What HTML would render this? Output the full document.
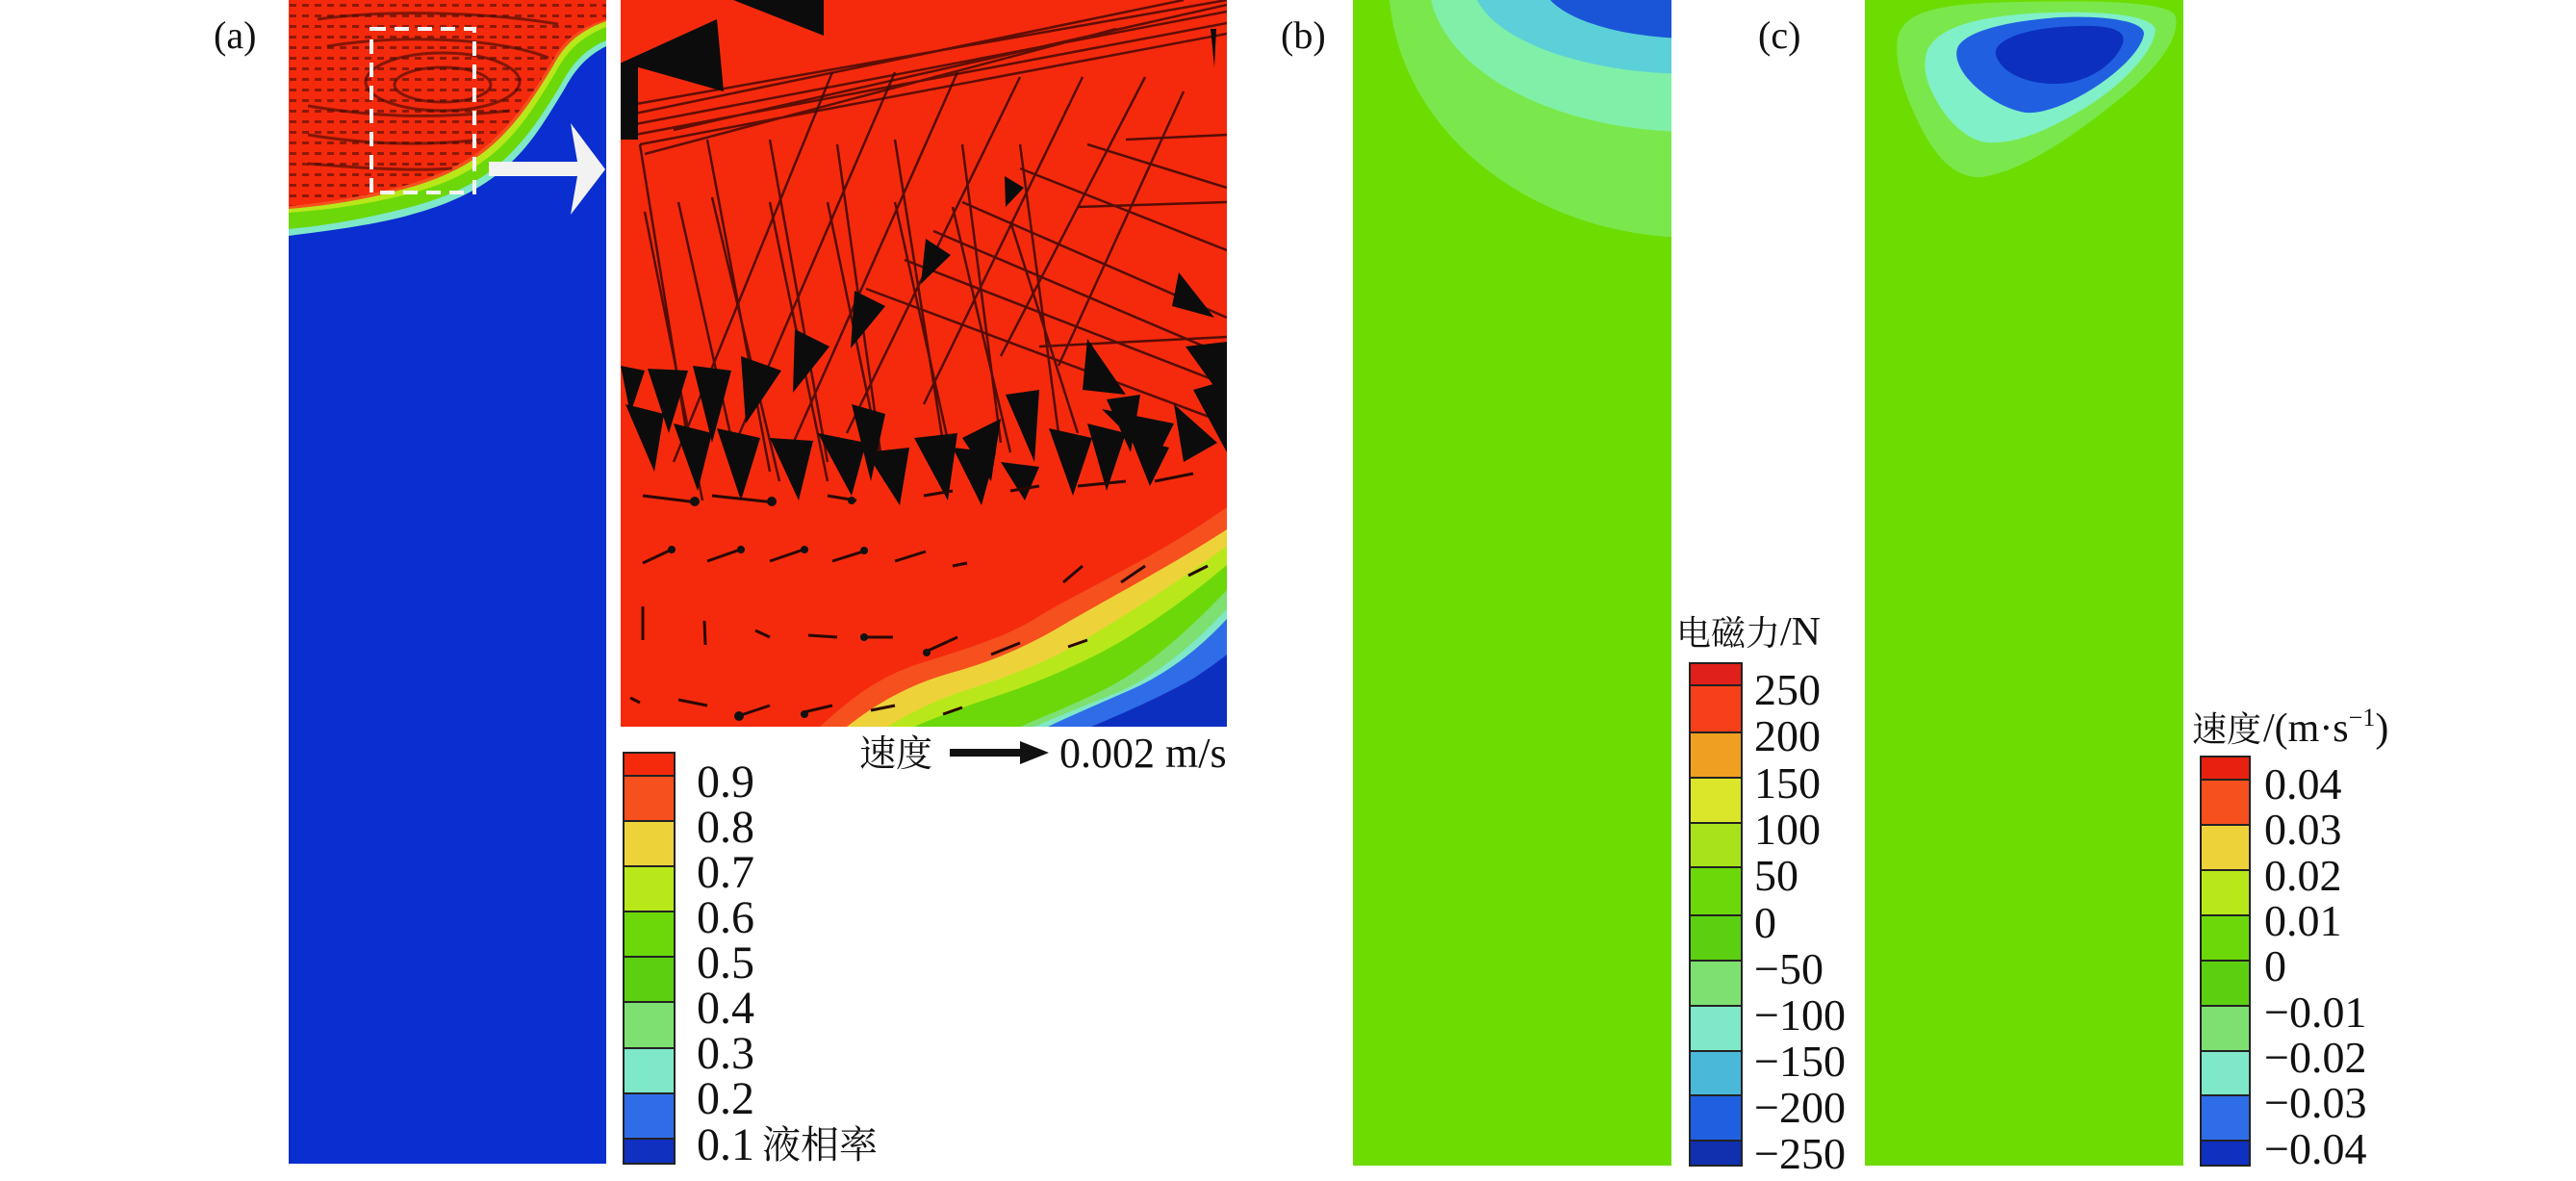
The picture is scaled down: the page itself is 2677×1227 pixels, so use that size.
<!DOCTYPE html>
<html><head><meta charset="utf-8">
<style>
html,body{margin:0;padding:0;background:#fff;}
svg{display:block;}
.t{font-family:"Liberation Serif","Noto Serif CJK SC",serif;fill:#111;}
.c{font-family:"Noto Serif CJK SC","Noto Sans CJK SC",serif;fill:#111;}
</style></head>
<body>
<svg width="2677" height="1227" viewBox="0 0 2677 1227" xmlns="http://www.w3.org/2000/svg">
<defs>
<clipPath id="cpa"><rect x="300" y="0" width="330" height="1209"/></clipPath>
<clipPath id="cpz"><rect x="645" y="0" width="630" height="755"/></clipPath>
<clipPath id="cpb"><rect x="1406" y="0" width="331" height="1211"/></clipPath>
<clipPath id="cpc"><rect x="1938" y="0" width="331" height="1211"/></clipPath>
<pattern id="dots" width="13" height="11" patternUnits="userSpaceOnUse">
<rect x="2" y="4" width="7" height="3" fill="#4a0e06" opacity="0.6"/>
</pattern>
</defs>

<!-- labels -->
<text class="t" x="222" y="50" font-size="40">(a)</text>
<text class="t" x="1331" y="50" font-size="40">(b)</text>
<text class="t" x="1827" y="50" font-size="40">(c)</text>

<!-- Panel a -->
<g clip-path="url(#cpa)">
<rect x="300" y="0" width="330" height="1209" fill="#0a2ecf"/>
<path d="M300,0 L630,0 L630,48 C610,58 598,72 588,90 C570,120 555,145 535,165 C505,195 470,212 420,225 C380,235 340,240 300,245 Z" fill="#7ee8c8"/>
<path d="M300,0 L630,0 L630,42 C606,52 594,68 584,86 C566,116 550,140 530,160 C500,190 465,206 415,218 C375,228 340,234 300,238 Z" fill="#6cd80a"/>
<path d="M300,0 L630,0 L630,28 C600,40 588,56 578,74 C560,104 545,128 525,148 C495,178 460,194 410,205 C372,214 338,218 300,221 Z" fill="#b8e81a"/>
<path d="M300,0 L630,0 L630,22 C597,34 585,50 575,68 C557,98 541,122 521,142 C491,172 456,188 406,200 C370,209 336,214 300,217 Z" fill="#f5501e"/>
<path d="M300,0 L630,0 L630,20 C595,31 583,47 573,65 C555,95 539,119 519,139 C489,169 454,185 404,197 C368,206 334,211 300,214 Z" fill="#f52a0c"/>
<path d="M300,0 L630,0 L630,20 C595,31 583,47 573,65 C555,95 539,119 519,139 C489,169 454,185 404,197 C368,206 334,211 300,214 Z" fill="url(#dots)"/>
<g stroke="#3a0a05" stroke-width="3" fill="none" opacity="0.6">
<path d="M330,20 C400,10 500,12 580,25"/>
<path d="M340,48 C420,35 520,40 570,60"/>
<ellipse cx="460" cy="85" rx="80" ry="30"/>
<ellipse cx="460" cy="88" rx="50" ry="18"/>
<path d="M320,110 C380,120 440,125 530,115 M320,140 C380,150 440,152 500,145 M320,170 C380,175 430,178 470,175"/>
</g>
</g>
<rect x="386" y="30" width="107" height="170" fill="none" stroke="#f4f4f4" stroke-width="4" stroke-dasharray="15,9"/>
<path d="M508,168 L600,168 L593,128 L629,176 L593,223 L600,183 L508,183 Z" fill="#f2f2f2"/>

<!-- Zoom panel -->
<g clip-path="url(#cpz)">
<rect x="645" y="0" width="630" height="755" fill="#f52a0c"/>
<path d="M852,755 C890,720 920,700 960,688 C1010,672 1050,660 1080,640 C1130,610 1200,580 1275,527 L1275,755 Z" fill="#f5501e"/>
<path d="M880,755 C915,728 945,712 985,700 C1030,688 1065,672 1095,655 C1145,625 1210,592 1275,550 L1275,755 Z" fill="#eed23a"/>
<path d="M922,755 C955,735 985,722 1020,712 C1055,700 1085,688 1115,672 C1160,645 1220,608 1275,567 L1275,755 Z" fill="#b8e81a"/>
<path d="M950,755 C985,740 1015,730 1045,720 C1080,708 1110,695 1140,680 C1180,660 1230,625 1275,587 L1275,755 Z" fill="#6cd80a"/>
<path d="M1060,755 C1090,742 1120,730 1150,715 C1190,695 1235,655 1275,613 L1275,755 Z" fill="#7ee070"/>
<path d="M1075,755 C1105,742 1135,730 1165,718 C1205,700 1245,665 1275,633 L1275,755 Z" fill="#7ee8c8"/>
<path d="M1089,755 C1120,740 1150,728 1183,713 C1220,695 1250,670 1275,643 L1275,755 Z" fill="#2f6de8"/>
<path d="M1134,755 C1170,740 1210,722 1240,705 C1255,695 1265,688 1275,680 L1275,755 Z" fill="#0d2fbf"/>
<!-- band of thin lines at top -->
<g stroke="#3a0804" stroke-width="2.5" fill="none" opacity="0.8">
<path d="M650,110 L1275,0 M650,120 L1230,0 M655,130 L1275,12 M660,140 L1275,24 M665,150 L1275,35 M670,160 L1160,30 M700,135 L1275,5"/>
</g>
<!-- steep lines -->
<g stroke="#3a0804" stroke-width="2.5" fill="none" opacity="0.85">
<path d="M665,150 L720,490 M735,145 L800,490 M800,145 L860,480 M870,150 L915,470 M930,145 L980,460 M1000,150 L1040,460 M1060,150 L1100,450"/>
<path d="M670,220 L730,520 M705,210 L770,500 M740,205 L810,500 M800,210 L860,500 M860,210 L920,500 M930,210 L990,480 M990,215 L1050,470 M1050,230 L1120,450"/>
<path d="M865,75 L700,480 M930,75 L760,470 M995,75 L820,470 M1060,80 L880,450 M1125,80 L960,420 M1190,80 L1040,370 M1230,95 L1100,380"/>
<path d="M1130,150 L1275,195 M1060,175 L1275,260 M1000,210 L1275,330 M970,240 L1275,370 M940,270 L1275,400 M900,300 L1275,440 M1120,215 L1275,210 M1170,145 L1275,140 M1080,360 L1275,350"/>
</g>
<!-- triangles -->
<g fill="#0c0c0c">
<polygon points="762,0 856,0 856,37"/>
<polygon points="646,65 745,20 752,95"/>
<rect x="645" y="65" width="18" height="80"/>
<polygon points="1258,30 1264,30 1262,70"/>
<polygon points="1044,183 1064,195 1045,215"/>
<polygon points="962,248 988,265 957,295"/>
<polygon points="888,302 920,318 884,362"/>
<polygon points="826,342 862,360 824,408"/>
<polygon points="770,370 812,385 775,440"/>
<polygon points="1225,283 1262,330 1218,318"/>
<polygon points="1130,352 1170,410 1125,405"/>
<polygon points="1232,360 1275,355 1275,420"/>
<polygon points="645,380 670,385 655,430"/>
<polygon points="673,383 715,385 695,450"/>
<polygon points="720,380 760,385 740,460"/>
<polygon points="650,420 690,430 680,490"/>
<polygon points="700,440 740,450 725,510"/>
<polygon points="745,445 790,455 770,520"/>
<polygon points="800,455 845,458 830,520"/>
<polygon points="850,450 900,460 885,515"/>
<polygon points="885,420 920,430 905,500"/>
<polygon points="900,470 945,465 935,525"/>
<polygon points="950,455 995,450 985,520"/>
<polygon points="990,465 1035,470 1020,525"/>
<polygon points="1040,480 1080,485 1065,520"/>
<polygon points="1045,410 1080,405 1075,480"/>
<polygon points="1090,445 1135,455 1115,515"/>
<polygon points="1130,440 1170,450 1150,510"/>
<polygon points="1150,415 1185,410 1175,470"/>
<polygon points="1175,455 1215,465 1195,505"/>
<polygon points="1145,425 1220,440 1200,480"/>
<polygon points="1220,420 1265,460 1230,480"/>
<polygon points="1240,405 1275,395 1275,470"/>
<polygon points="1000,455 1040,435 1030,500"/>
</g>
<!-- small arrows -->
<g stroke="#2a0804" stroke-width="3" fill="none">
<path d="M668,515 L725,522 M740,515 L805,522 M860,515 L890,520 M960,515 L990,510 M1050,510 L1080,505 M1120,505 L1170,500 M1200,500 L1240,492"/>
<path d="M668,585 L700,570 M735,583 L772,570 M800,583 L838,570 M865,583 L900,572 M930,583 L962,573 M990,588 L1005,585 M1105,605 L1125,588 M1165,605 L1190,588 M1235,598 L1255,588"/>
<path d="M668,630 L668,665 M732,645 L733,670 M785,655 L800,662 M840,660 L870,662 M895,662 L928,662 M960,678 L995,662 M1030,680 L1060,668 M1110,672 L1130,665"/>
<path d="M655,725 L665,730 M705,727 L735,733 M770,743 L800,733 M835,740 L865,733 M905,738 L930,733 M980,742 L1000,735"/>
</g>
<g fill="#111">
<circle cx="722" cy="521" r="5"/><circle cx="802" cy="521" r="5"/><circle cx="885" cy="520" r="4"/>
<circle cx="698" cy="571" r="4"/><circle cx="770" cy="571" r="4"/><circle cx="836" cy="571" r="4"/><circle cx="898" cy="572" r="4"/>
<circle cx="898" cy="662" r="4"/><circle cx="963" cy="678" r="4"/><circle cx="768" cy="744" r="5"/><circle cx="836" cy="742" r="4"/>
</g>
</g>

<!-- velocity scale -->
<text class="c" x="893" y="796" font-size="38">速度</text>
<path d="M987,778 L1060,778 L1060,770 L1090,782 L1060,794 L1060,786 L987,786 Z" fill="#111"/>
<text class="t" x="1101" y="797" font-size="44">0.002 m/s</text>

<!-- Legend a -->
<g stroke="#222" stroke-width="2">
<rect x="648" y="782" width="53" height="24" fill="#f52a0c"/>
<rect x="648" y="806" width="53" height="47" fill="#f5501e"/>
<rect x="648" y="853" width="53" height="47" fill="#eed23a"/>
<rect x="648" y="900" width="53" height="47" fill="#b8e81a"/>
<rect x="648" y="947" width="53" height="47" fill="#6cd80a"/>
<rect x="648" y="994" width="53" height="47" fill="#5cd010"/>
<rect x="648" y="1041" width="53" height="48" fill="#7ee070"/>
<rect x="648" y="1089" width="53" height="47" fill="#7ee8c8"/>
<rect x="648" y="1136" width="53" height="47" fill="#2f6de8"/>
<rect x="648" y="1183" width="53" height="26" fill="#1030c0"/>
</g>
<g class="t" font-size="48">
<text x="724" y="828">0.9</text>
<text x="724" y="875">0.8</text>
<text x="724" y="922">0.7</text>
<text x="724" y="969">0.6</text>
<text x="724" y="1016">0.5</text>
<text x="724" y="1063">0.4</text>
<text x="724" y="1110">0.3</text>
<text x="724" y="1157">0.2</text>
<text x="724" y="1205">0.1</text>
</g>
<text class="c" x="792" y="1203" font-size="40">液相率</text>

<!-- Panel b -->
<g clip-path="url(#cpb)">
<rect x="1406" y="0" width="331" height="1211" fill="#6ddc00"/>
<ellipse cx="1760" cy="-20" rx="317" ry="267" fill="#7ae84c"/>
<ellipse cx="1760" cy="-20" rx="275" ry="157" fill="#80f0a8"/>
<ellipse cx="1760" cy="-20" rx="230" ry="97" fill="#5cd0d8"/>
<ellipse cx="1760" cy="-20" rx="158" ry="60" fill="#1a55d8"/>
</g>
<!-- Legend b -->
<text class="c" x="1742" y="670" font-size="36">电磁力</text>
<text class="t" x="1850" y="670" font-size="42">/N</text>
<g stroke="#222" stroke-width="2">
<rect x="1756" y="689" width="54" height="23" fill="#e0201a"/>
<rect x="1756" y="712" width="54" height="49" fill="#f5401a"/>
<rect x="1756" y="761" width="54" height="47" fill="#f0a020"/>
<rect x="1756" y="808" width="54" height="47" fill="#dbe62a"/>
<rect x="1756" y="855" width="54" height="46" fill="#a8e21a"/>
<rect x="1756" y="901" width="54" height="50" fill="#6cd80a"/>
<rect x="1756" y="951" width="54" height="47" fill="#5cd010"/>
<rect x="1756" y="998" width="54" height="47" fill="#7ee070"/>
<rect x="1756" y="1045" width="54" height="47" fill="#7ee8c8"/>
<rect x="1756" y="1092" width="54" height="46" fill="#4ab8d8"/>
<rect x="1756" y="1138" width="54" height="47" fill="#2060e0"/>
<rect x="1756" y="1185" width="54" height="26" fill="#1030b0"/>
</g>
<g class="t" font-size="46">
<text x="1823" y="732">250</text>
<text x="1823" y="780">200</text>
<text x="1823" y="829">150</text>
<text x="1823" y="877">100</text>
<text x="1823" y="925">50</text>
<text x="1823" y="974">0</text>
<text x="1823" y="1022">−50</text>
<text x="1823" y="1070">−100</text>
<text x="1823" y="1118">−150</text>
<text x="1823" y="1166">−200</text>
<text x="1823" y="1214">−250</text>
</g>

<!-- Panel c -->
<g clip-path="url(#cpc)">
<rect x="1938" y="0" width="331" height="1211" fill="#6ddc00"/>
<path d="M1972,40 C1978,10 2020,3 2100,2 C2180,0 2250,2 2260,15 C2268,35 2245,70 2200,105 C2150,145 2100,178 2060,184 C2030,186 2010,160 1995,130 C1980,100 1968,65 1972,40 Z" fill="#7ae84c"/>
<path d="M2002,55 C2010,30 2050,18 2110,14 C2180,10 2235,15 2240,30 C2240,50 2210,85 2170,110 C2130,135 2095,150 2065,148 C2040,145 2020,120 2010,100 C2002,85 1998,70 2002,55 Z" fill="#80f0c8"/>
<path d="M2035,48 C2045,32 2085,22 2140,18 C2190,16 2228,22 2228,35 C2226,52 2200,78 2165,98 C2140,112 2120,118 2105,117 C2080,113 2055,95 2042,78 C2034,67 2031,56 2035,48 Z" fill="#2060e0"/>
<path d="M2075,50 C2085,35 2120,28 2160,27 C2195,26 2210,32 2206,45 C2200,62 2180,80 2150,86 C2120,90 2095,82 2082,70 C2075,62 2072,56 2075,50 Z" fill="#0d2fbf"/>
</g>
<!-- Legend c -->
<text class="c" x="2278" y="770" font-size="36">速度</text>
<text class="t" x="2352" y="770" font-size="42">/(m·s<tspan font-size="26" dy="-16">−1</tspan><tspan dy="16">)</tspan></text>
<g stroke="#222" stroke-width="2">
<rect x="2287" y="786" width="51" height="24" fill="#e82010"/>
<rect x="2287" y="810" width="51" height="47" fill="#f5501e"/>
<rect x="2287" y="857" width="51" height="47" fill="#eed23a"/>
<rect x="2287" y="904" width="51" height="47" fill="#b8e81a"/>
<rect x="2287" y="951" width="51" height="47" fill="#6cd80a"/>
<rect x="2287" y="998" width="51" height="47" fill="#5cd010"/>
<rect x="2287" y="1045" width="51" height="47" fill="#7ee070"/>
<rect x="2287" y="1092" width="51" height="46" fill="#7ee8c8"/>
<rect x="2287" y="1138" width="51" height="47" fill="#2f6de8"/>
<rect x="2287" y="1185" width="51" height="26" fill="#1030c0"/>
</g>
<g class="t" font-size="46">
<text x="2353" y="830">0.04</text>
<text x="2353" y="877">0.03</text>
<text x="2353" y="925">0.02</text>
<text x="2353" y="972">0.01</text>
<text x="2353" y="1019">0</text>
<text x="2353" y="1067">−0.01</text>
<text x="2353" y="1114">−0.02</text>
<text x="2353" y="1161">−0.03</text>
<text x="2353" y="1209">−0.04</text>
</g>
</svg>
</body></html>
